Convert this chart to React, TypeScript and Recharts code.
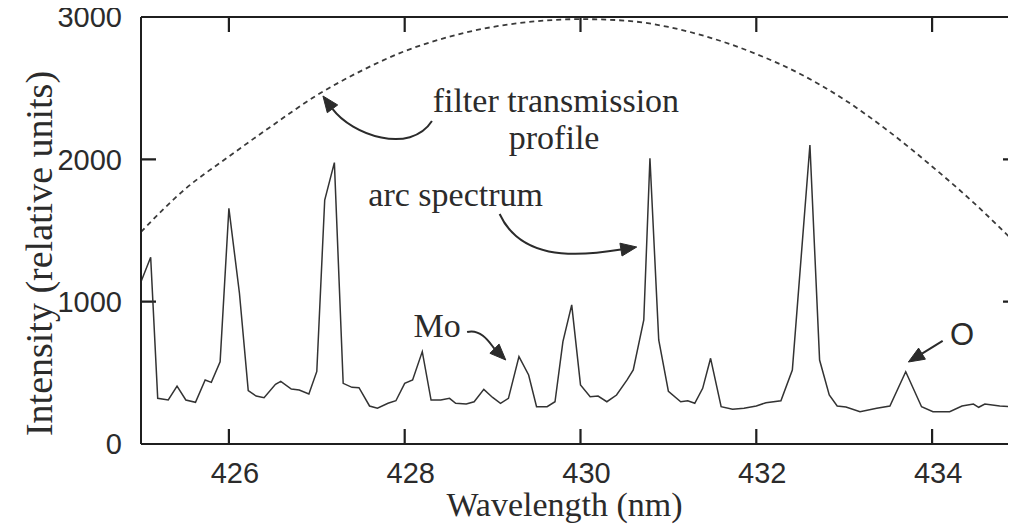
import React from 'react';
import { ComposedChart, Line, XAxis, YAxis, Customized, Label } from 'recharts';

// Arc spectrum (wavelength nm, intensity)
const spectrumWavelength = [
  425.0, 425.11, 425.19, 425.31, 425.41, 425.51, 425.62, 425.73, 425.8, 425.9,
  426.0, 426.12, 426.22, 426.31, 426.4, 426.53, 426.59, 426.71, 426.8, 426.91,
  427.0, 427.09, 427.2, 427.3, 427.4, 427.48, 427.6, 427.69, 427.81, 427.9,
  428.0, 428.09, 428.2, 428.3, 428.41, 428.51, 428.58, 428.7, 428.79, 428.9,
  429.0, 429.09, 429.18, 429.3, 429.41, 429.5, 429.62, 429.71, 429.8, 429.9,
  430.0, 430.11, 430.2, 430.3, 430.41, 430.53, 430.6, 430.72, 430.79, 430.89,
  431.0, 431.14, 431.22, 431.3, 431.39, 431.48, 431.6, 431.73, 431.86, 432.0,
  432.11, 432.28, 432.41, 432.61, 432.72, 432.83, 432.92, 433.02, 433.18, 433.37,
  433.52, 433.7, 433.88, 434.01, 434.2, 434.34, 434.47, 434.53, 434.6, 434.77,
  434.94,
];
const spectrumIntensity = [
  1140, 1312, 321, 309, 407, 309, 293, 450, 433, 578,
  1656, 1059, 375, 337, 325, 419, 440, 386, 379, 351,
  510, 1714, 1977, 426, 398, 396, 267, 251, 286, 304,
  426, 450, 649, 309, 309, 321, 286, 281, 297, 384,
  327, 286, 321, 614, 485, 262, 262, 297, 719, 977,
  415, 332, 337, 297, 344, 450, 520, 871, 2007, 731,
  370, 297, 304, 286, 391, 602, 262, 244, 251, 267,
  290, 304, 520, 2101, 590, 344, 267, 260, 227, 251,
  267, 508, 262, 227, 227, 267, 281, 258, 281, 267,
  262,
];

// Filter transmission profile
const filterWavelength = [
  425, 425.5, 426, 426.5, 427, 427.5, 428, 428.5, 429, 429.5, 430,
  430.5, 431, 431.5, 432, 432.5, 433, 433.5, 434, 434.5, 435,
];
const filterValue = [
  1490, 1790, 2020, 2240, 2450, 2620, 2760, 2860, 2930, 2970, 2985,
  2975, 2930, 2850, 2740, 2600, 2420, 2200, 1950, 1680, 1380,
];

const xTicks = [426, 428, 430, 432, 434];
const yTicks = [0, 1000, 2000, 3000];
const xDomain: [number, number] = [425, 435];
const yDomain: [number, number] = [0, 3000];

// Annotation texts (data units: wavelength, intensity)
const noteTexts = [
  { text: 'filter transmission', x: 429.72, y: 2333, font: 'serif' },
  { text: 'profile', x: 429.7, y: 2073, font: 'serif' },
  { text: 'arc spectrum', x: 428.58, y: 1672, font: 'serif' },
  { text: 'Mo', x: 428.37, y: 752, font: 'serif' },
  { text: 'O', x: 434.34, y: 696, font: 'sans' },
];
// Arrows: start, control1, control2, tip (data units)
const noteArrows = [
  [[428.31, 2269], [428.06, 2030], [427.4, 2171], [427.07, 2445]],
  [[429.08, 1616], [429.31, 1307], [429.88, 1307], [430.64, 1384]],
  [[428.71, 787], [428.88, 815], [428.99, 689], [429.15, 590]],
  [[434.12, 724], [434.12, 724], [433.73, 576], [433.73, 576]],
];

const spectrumData = spectrumWavelength.map((w, i) => ({ x: w, y: spectrumIntensity[i] }));
const filterData = filterWavelength.map((w, i) => ({ x: w, y: filterValue[i] }));

const CHART_W = 1038;
const CHART_H = 528;
const PLOT = { left: 141, right: 1020, top: 17, bottom: 444 };
const TICK_LEN = 15;
const sx = (w: number) => PLOT.left + ((w - xDomain[0]) / (xDomain[1] - xDomain[0])) * (PLOT.right - PLOT.left);
const sy = (v: number) => PLOT.bottom - ((v - yDomain[0]) / (yDomain[1] - yDomain[0])) * (PLOT.bottom - PLOT.top);

const INK = '#2b2b2b';
const AXIS = '#1f1f1f';
const SERIF = '"Liberation Serif", "Times New Roman", serif';
const SANS = '"Liberation Sans", Arial, sans-serif';
const TICK_FONT = 29;

function Decorations() {
  const tickPath =
    xTicks
      .map((t) => `M${sx(t)},${PLOT.bottom} L${sx(t)},${PLOT.bottom - TICK_LEN} M${sx(t)},${PLOT.top} L${sx(t)},${PLOT.top + TICK_LEN}`)
      .join(' ') +
    ' ' +
    yTicks
      .map((t) => `M${PLOT.left},${sy(t)} L${PLOT.left + TICK_LEN},${sy(t)} M${PLOT.right},${sy(t)} L${PLOT.right - TICK_LEN - 2},${sy(t)}`)
      .join(' ');
  return (
    <g>
      <path d={tickPath} fill="none" stroke={AXIS} strokeWidth={2.2} />
      {noteTexts.map((t, i) => (
        <text
          key={'t' + i}
          x={sx(t.x)}
          y={sy(t.y)}
          textAnchor="middle"
          fontFamily={t.font === 'serif' ? SERIF : SANS}
          fontSize={t.font === 'serif' ? 34 : 31}
          fill={INK}
        >
          {t.text}
        </text>
      ))}
      {noteArrows.map((a, i) => {
        const p = a.map(([w, v]) => [sx(w), sy(v)]);
        const [s, c1, c2, tip] = p;
        const straight = c2[0] === tip[0] && c2[1] === tip[1];
        const from = straight ? s : c2;
        const dx = tip[0] - from[0];
        const dy = tip[1] - from[1];
        const len = Math.hypot(dx, dy) || 1;
        const ux = dx / len;
        const uy = dy / len;
        const headL = 16;
        const headW = 6.5;
        const bx = tip[0] - ux * headL;
        const by = tip[1] - uy * headL;
        const d = straight
          ? `M${s[0]},${s[1]} L${bx},${by}`
          : `M${s[0]},${s[1]} C${c1[0]},${c1[1]} ${c2[0]},${c2[1]} ${bx},${by}`;
        const head = `M${tip[0]},${tip[1]} L${bx - uy * headW},${by + ux * headW} L${bx + uy * headW},${by - ux * headW} Z`;
        return (
          <g key={'a' + i}>
            <path d={d} fill="none" stroke={INK} strokeWidth={2} />
            <path d={head} fill={INK} stroke={INK} strokeWidth={1} />
          </g>
        );
      })}
    </g>
  );
}

const axisLine = { stroke: AXIS, strokeWidth: 2 };
const tickText = { fill: INK, fontSize: TICK_FONT, fontFamily: SANS };

export default function App() {
  return (
    <div style={{ margin: '-8px 0 0 -8px', width: 1016, height: CHART_H, overflow: 'hidden' }}>
      <ComposedChart width={CHART_W} height={CHART_H} margin={{ top: 0, right: 0, bottom: 0, left: 0 }}>
        <XAxis
          xAxisId="bottom"
          type="number"
          dataKey="x"
          domain={xDomain}
          ticks={xTicks}
          interval={0}
          allowDataOverflow
          height={CHART_H - PLOT.bottom}
          axisLine={axisLine}
          tickLine={false}
          tickSize={0}
          tickMargin={18}
          tick={{ ...tickText, dx: 6 }}
        >
          <Label
            content={(props: any) => {
              const vb = props.viewBox || {};
              return (
                <text
                  x={vb.x + vb.width / 2 - 16}
                  y={vb.y + 72}
                  textAnchor="middle"
                  fontFamily={SERIF}
                  fontSize={34}
                  fill={INK}
                >
                  Wavelength (nm)
                </text>
              );
            }}
          />
        </XAxis>
        <XAxis
          xAxisId="top"
          orientation="top"
          type="number"
          dataKey="x"
          domain={xDomain}
          ticks={xTicks}
          interval={0}
          allowDataOverflow
          height={PLOT.top}
          axisLine={axisLine}
          tickLine={false}
          tick={false}
        />
        <YAxis
          yAxisId="left"
          type="number"
          domain={yDomain}
          ticks={yTicks}
          interval={0}
          allowDataOverflow
          width={PLOT.left}
          axisLine={axisLine}
          tickLine={false}
          tickSize={0}
          tickMargin={19}
          tick={tickText}
        >
          <Label
            content={(props: any) => {
              const vb = props.viewBox || {};
              const cy = vb.y + vb.height / 2 + 23;
              return (
                <text
                  transform={`translate(52, ${cy}) rotate(-90)`}
                  x={0}
                  y={0}
                  textAnchor="middle"
                  fontFamily={SERIF}
                  fontSize={38}
                  fill={INK}
                >
                  Intensity (relative units)
                </text>
              );
            }}
          />
        </YAxis>
        <YAxis
          yAxisId="right"
          orientation="right"
          type="number"
          domain={yDomain}
          ticks={yTicks}
          interval={0}
          allowDataOverflow
          width={CHART_W - PLOT.right}
          axisLine={axisLine}
          tickLine={false}
          tick={false}
        />
        <Line
          xAxisId="bottom"
          yAxisId="left"
          data={filterData}
          dataKey="y"
          type="monotone"
          stroke="#3a3a3a"
          strokeWidth={1.8}
          strokeDasharray="5 4"
          dot={false}
          isAnimationActive={false}
        />
        <Line
          xAxisId="bottom"
          yAxisId="left"
          data={spectrumData}
          dataKey="y"
          type="linear"
          stroke="#333333"
          strokeWidth={1.5}
          dot={false}
          isAnimationActive={false}
        />
        <Customized component={Decorations} />
      </ComposedChart>
    </div>
  );
}
